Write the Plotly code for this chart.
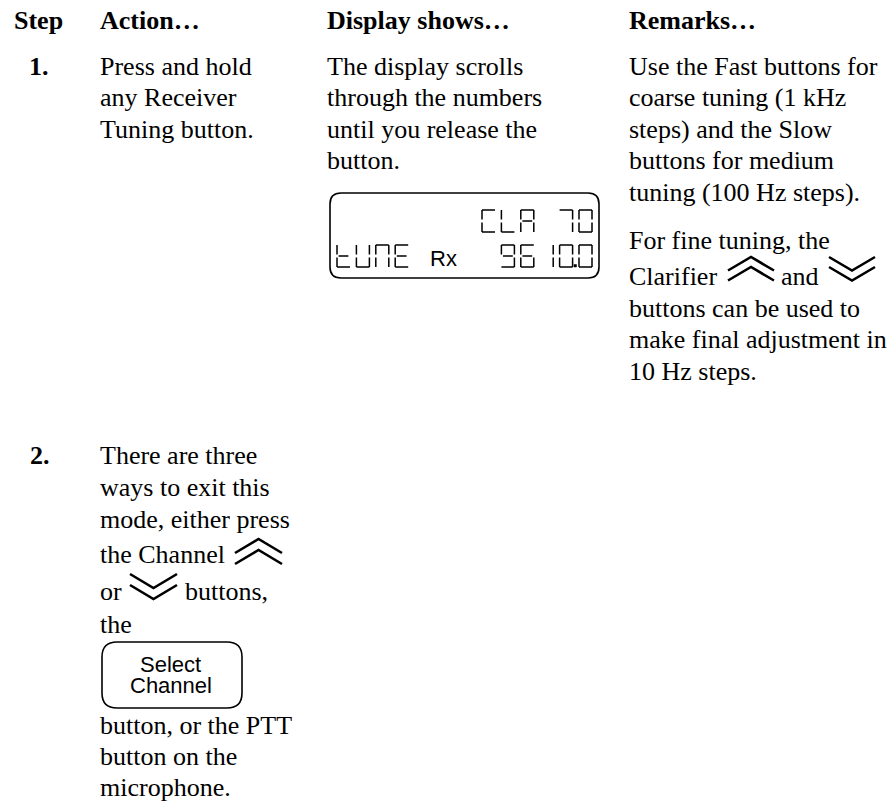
import plotly.graph_objects as go

SERIF = "Liberation Serif"
SANS = "Liberation Sans"

# ---- text content ----
header_labels = ["Step", "Action…", "Display shows…", "Remarks…"]
step_numbers = ["1.", "2."]
action_1 = ["Press and hold", "any Receiver", "Tuning button."]
display_1 = ["The display scrolls", "through the numbers", "until you release the", "button."]
remarks_1 = ["Use the Fast buttons for", "coarse tuning (1 kHz", "steps) and the Slow",
             "buttons for medium", "tuning (100 Hz steps)."]
remarks_1b = ["For fine tuning, the", "Clarifier", "and"]
remarks_1c = ["buttons can be used to", "make final adjustment in", "10 Hz steps."]
action_2a = ["There are three", "ways to exit this", "mode, either press", "the Channel"]
action_2b = ["or", "buttons,", "the"]
action_2c = ["button, or the PTT", "button on the", "microphone."]
button_label = ["Select", "Channel"]
lcd_top = "CLA 70"
lcd_word = "tUNE"
lcd_rx = "Rx"
lcd_freq = "9610.0"

# ---- layout constants (pixels) ----
W, H = 896, 803
FS = 26
col_x = [14, 100, 327, 629]
step_x = 29

fig = go.Figure()
fig.add_trace(go.Scatter(x=[0], y=[0], mode="markers", marker=dict(opacity=0),
                         hoverinfo="skip", showlegend=False))

annotations = []
shapes = []


def text(t, x, baseline, size=FS, bold=False, family=SERIF, asc=0.891, desc=0.216,
         anchor="left"):
    y = baseline - (asc - (asc + desc) / 2) * size
    annotations.append(dict(
        text=t, x=x, y=y, xref="x", yref="y", xanchor=anchor, yanchor="middle",
        showarrow=False, borderpad=0, borderwidth=0,
        font=dict(family=family, size=size, color="black",
                  weight="bold" if bold else "normal")))


def sans(t, x, baseline, size, anchor="left"):
    text(t, x, baseline, size=size, family=SANS, asc=0.905, desc=0.212, anchor=anchor)


def rounded_rect(x0, y0, x1, y1, r, width=1.6):
    p = (f"M{x0+r},{y0} L{x1-r},{y0} Q{x1},{y0} {x1},{y0+r} L{x1},{y1-r} "
         f"Q{x1},{y1} {x1-r},{y1} L{x0+r},{y1} Q{x0},{y1} {x0},{y1-r} "
         f"L{x0},{y0+r} Q{x0},{y0} {x0+r},{y0} Z")
    shapes.append(dict(type="path", path=p, xref="x", yref="y",
                       line=dict(color="black", width=width)))


def chevrons(x0, ytop, up=True, w=46, hh=13.5, dy=10, width=2.6):
    parts = []
    for k in range(2):
        yt = ytop + k * dy
        if up:
            parts.append(f"M{x0},{yt+hh} L{x0+w/2},{yt} L{x0+w},{yt+hh}")
        else:
            parts.append(f"M{x0},{yt} L{x0+w/2},{yt+hh} L{x0+w},{yt}")
    shapes.append(dict(type="path", path=" ".join(parts), xref="x", yref="y",
                       line=dict(color="black", width=width)))


SEG = {'C': 'adef', 'L': 'def', 'A': 'abcefg', '7': 'abc', '0': 'abcdef',
       't': 'defg', 'U': 'bcdef', 'N': 'abcef', 'E': 'adefg', '9': 'abcdfg',
       '6': 'acdefg', '1': 'bc', ' ': ''}


def seg_char(ch, x0, yt, w=13, h=22, g=1.6):
    m = yt + h / 2
    segs = {
        'a': (x0, yt, x0 + w, yt),
        'b': (x0 + w, yt, x0 + w, m - g),
        'c': (x0 + w, m + g, x0 + w, yt + h),
        'd': (x0, yt + h, x0 + w, yt + h),
        'e': (x0, m + g, x0, yt + h),
        'f': (x0, yt, x0, m - g),
        'g': (x0 + g, m, x0 + w - g, m),
    }
    out = []
    for s in SEG[ch]:
        a, b, c, d = segs[s]
        out.append(f"M{a},{b} L{c},{d}")
    return out


def seg_string(s, x_start, yt, pitch=19.4, w=13, h=22):
    parts = []
    x = x_start
    for ch in s:
        if ch == '.':
            shapes.append(dict(type="rect", x0=x - 5, x1=x - 2.5, y0=yt + h - 2.5, y1=yt + h,
                               xref="x", yref="y", fillcolor="black",
                               line=dict(color="black", width=0.5)))
            continue
        parts += seg_char(ch, x, yt, w, h)
        x += pitch
    if parts:
        shapes.append(dict(type="path", path=" ".join(parts), xref="x", yref="y",
                           line=dict(color="black", width=1.5)))


# ---- header ----
for lbl, x in zip(header_labels, col_x):
    text(lbl, x, 29, bold=True)

# ---- step 1 ----
text(step_numbers[0], step_x, 75, bold=True)
LH = 31.5
for i, t in enumerate(action_1):
    text(t, col_x[1], 75 + i * LH)
for i, t in enumerate(display_1):
    text(t, col_x[2], 75 + i * LH)
for i, t in enumerate(remarks_1):
    text(t, col_x[3], 75 + i * LH)
text(remarks_1b[0], col_x[3], 249)
text(remarks_1b[1], col_x[3], 285)
chevrons(728, 257, up=True)
text(remarks_1b[2], 781, 285)
chevrons(829, 257, up=False)
for i, t in enumerate(remarks_1c):
    text(t, col_x[3], 317 + i * LH)

# LCD display
rounded_rect(330, 193, 599, 278, 11)
seg_string(lcd_top, 482, 210)
seg_string(lcd_word, 337, 245)
sans(lcd_rx, 430, 266, 22)
seg_string(lcd_freq, 501.4, 245)

# ---- step 2 ----
text(step_numbers[1], 30, 464, bold=True)
for i, t in enumerate(action_2a):
    text(t, col_x[1], 464 + i * 32 + (3 if i == 3 else 0))
chevrons(235, 539, up=True, w=47, hh=14, dy=11)
text(action_2b[0], col_x[1], 600)
chevrons(130, 574, up=False, w=47, hh=14, dy=11)
text(action_2b[1], 185, 600)
text(action_2b[2], col_x[1], 633)

rounded_rect(102, 642, 242, 708, 15)
sans(button_label[0], 170, 672, 22, anchor="center")
sans(button_label[1], 171, 693, 22, anchor="center")

for i, t in enumerate(action_2c):
    text(t, col_x[1], 734 + i * 31)

fig.update_layout(
    width=W, height=H, margin=dict(l=0, r=0, t=0, b=0),
    paper_bgcolor="white", plot_bgcolor="white", showlegend=False,
    xaxis=dict(range=[0, W], visible=False, fixedrange=True),
    yaxis=dict(range=[H, 0], visible=False, fixedrange=True),
    annotations=annotations, shapes=shapes,
)

fig.write_html("out.html", config={"displayModeBar": False, "staticPlot": True},
               post_script="document.body.style.margin='0';document.body.style.overflow='hidden';")
